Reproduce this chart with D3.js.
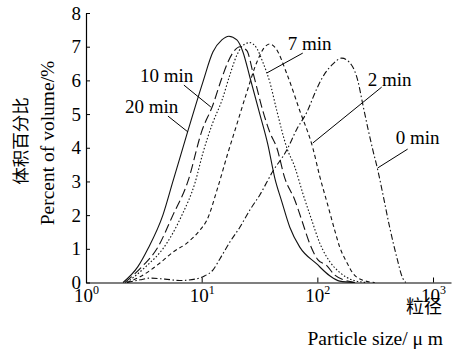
<!DOCTYPE html>
<html lang="en"><head><meta charset="utf-8">
<script src="https://cdn.jsdelivr.net/npm/d3@7"></script>
<style>
body{margin:0;background:#fff}
svg{display:block}
</style>
</head><body>
<svg id="c" width="452" height="349"></svg>
<script>
// ---- data ----
const yTicks = [0,1,2,3,4,5,6,7,8];
const xTicks = [1,10,100,1000];
const xTickBase = "10";
const xTickExp = ["0","1","2","3"];

const size20 = [2.09,2.81,3.43,4.62,5.64,7.60,10.24,12.5,14.94,17.18,20.14,22.7,26.08,31.81,37.3,42.87,49.27,57.78,70.47,98.81,128,156.1,210];
const pct20  = [0,0.47,1.0,2.0,3.0,4.5,5.95,6.84,7.2,7.31,7.2,6.85,6.1,5.0,4.1,3.1,2.4,1.64,1.05,0.55,0.2,0.04,0];

const size10 = [2.17,3.11,4.10,5.64,7.60,10.04,12.5,14.94,16.84,19.36,21.38,24.57,27.68,33.77,38.81,44.61,52.3,63.81,73.33,86.0,100.8,120.6,141.3,172.4,210.4];
const pct10  = [0,0.5,1.0,2.0,3.0,4.5,5.27,6.07,6.54,6.9,7.0,6.88,6.25,5.1,4.46,4.0,3.1,2.45,1.85,1.15,0.68,0.5,0.22,0.07,0];

const size7 = [2.26,3.36,4.62,6.75,8.74,10.24,12.5,14.94,17.52,20.14,23.61,26.08,29.98,33.77,38.81,44.61,54.42,63.81,74.8,89.46,104.9,128,156.1,202.2,267.2];
const pct7  = [0,0.5,1.0,2.0,2.95,3.84,4.75,5.4,6.16,6.75,7.08,7.12,6.95,6.54,5.95,5.1,4.0,3.43,2.65,1.85,1.17,0.62,0.3,0.07,0];

const size2 = [2.26,2.93,4.36,5.64,7.45,9.65,11.09,13.8,16.84,19.74,24.57,29.98,35.14,38.81,43.74,54.42,70.47,91.26,104.9,123,141.3,156.1,179.5,202.2,246.7,313.1];
const pct2  = [0,0.17,0.58,0.9,1.17,1.55,1.85,2.83,3.84,4.6,5.65,6.54,6.99,7.08,6.95,6.2,5.1,4.0,3.15,2.3,1.55,1.05,0.6,0.28,0.07,0];

const size0 = [2.26,2.93,3.57,4.81,6.48,8.74,10.66,12.5,14.36,17.52,21.38,26.08,31.81,41.2,54.42,66.4,81.0,98.81,115.9,133.2,162.4,198.2,223.4,246.7,272.5,300.9,332.3,367.1,421.9,485,546.5,580];
const pct0  = [0,0.08,0.13,0.1,0.06,0.1,0.2,0.37,0.7,1.2,1.64,2.15,2.6,3.3,3.93,4.55,5.05,5.75,6.2,6.45,6.66,6.45,6.0,5.3,4.6,3.95,3.35,2.65,1.64,0.76,0.13,0];

const seriesNames = ["20 min","10 min","7 min","2 min","0 min"];
// label anchor (size, %) and leader line ends (size, %)
const labelPos   = [[2.17,5.03],[2.93,5.95],[55.5,6.90],[272.5,5.83],[475.3,4.11]];
const leaderFrom = [[5.11,4.94],[7.02,5.86],[74.8,6.81],[359.8,5.80],[603.4,3.96]];
const leaderTo   = [[7.60,4.47],[12.0,5.21],[36.6,6.22],[91.3,4.14],[332.3,3.40]];

const xTitleCN = "粒径";
const xTitleEN = "Particle size/ μ m";
const yTitleCN = "体积百分比";
const yTitleEN = "Percent of volume/%";

// ---- drawing ----
const SERIF = "'Liberation Serif', 'Noto Sans CJK SC'";
const CJK = "'Noto Sans CJK SC'";
const serif = sel => sel.style("font-family", SERIF, "important");
const cjk = sel => sel.style("font-family", CJK, "important");

const series = [
  {s:size20,p:pct20,dash:null},
  {s:size10,p:pct10,dash:"9,4"},
  {s:size7,p:pct7,dash:"1.5,2"},
  {s:size2,p:pct2,dash:"4,3"},
  {s:size0,p:pct0,dash:"6,2.5,1.5,2.5"}
];

const svg = d3.select("#c");
const x = d3.scaleLog().domain([1, 1430]).range([86, 451]);
const y = d3.scaleLinear().domain([0, 8]).range([282.5, 13]);

const line = d3.line().x(d=>x(d[0])).y(d=>y(d[1])).curve(d3.curveMonotoneX);

series.forEach(sr=>{
  const pts = sr.s.map((v,i)=>[v, sr.p[i]]);
  svg.append("path").attr("d", line(pts))
    .attr("fill","none").attr("stroke","#111").attr("stroke-width",1.1)
    .attr("stroke-dasharray", sr.dash);
});

// axes
const yAxis = d3.axisLeft(y).tickValues(yTicks).tickSizeInner(-4).tickSizeOuter(0).tickPadding(5).tickFormat(d3.format("d"));
const gy = svg.append("g").attr("transform","translate(86,0)").call(yAxis);
gy.attr("font-size", null);
gy.selectAll("text").call(serif).style("font-size","19px").attr("fill","#000");

const xAxis = d3.axisBottom(x).tickValues(xTicks).tickSizeInner(-5).tickSizeOuter(0).tickPadding(5).tickFormat(()=>"");
const gx = svg.append("g").attr("transform","translate(0,282.5)").call(xAxis);
gx.attr("font-size", null);
gx.selectAll(".tick text").each(function(d,i){
  const t = d3.select(this).attr("dy", null).attr("y", 19.5).call(serif).style("font-size","19px").attr("fill","#000");
  t.append("tspan").text(xTickBase);
  t.append("tspan").text(xTickExp[i]).attr("dy","-8").style("font-size","12px");
});
[gx, gy].forEach(g=>{
  g.select(".domain").attr("stroke","#000").attr("stroke-width",1.2);
  g.selectAll(".tick line").attr("stroke","#000").attr("stroke-width",1);
});

// series labels and leaders
seriesNames.forEach((n,i)=>{
  svg.append("line")
    .attr("x1", x(leaderFrom[i][0])).attr("y1", y(leaderFrom[i][1]))
    .attr("x2", x(leaderTo[i][0])).attr("y2", y(leaderTo[i][1]))
    .attr("stroke","#000").attr("stroke-width",1);
  svg.append("text").attr("x", x(labelPos[i][0])).attr("y", y(labelPos[i][1]))
    .call(serif).style("font-size","19px").text(n);
});

// titles
svg.append("text").attr("x",443).attr("y",345).attr("text-anchor","end")
  .call(serif).style("font-size","19.5px").text(xTitleEN);
svg.append("text").attr("transform","translate(54,143) rotate(-90)").attr("text-anchor","middle")
  .call(serif).style("font-size","19.5px").text(yTitleEN);
svg.append("text").attr("x",442).attr("y",313).attr("text-anchor","end")
  .call(cjk).style("font-size","18px").text(xTitleCN);
svg.append("text").attr("transform","translate(27,141) rotate(-90)").attr("text-anchor","middle")
  .call(cjk).style("font-size","17.5px").text(yTitleCN);
</script>
</body></html>
